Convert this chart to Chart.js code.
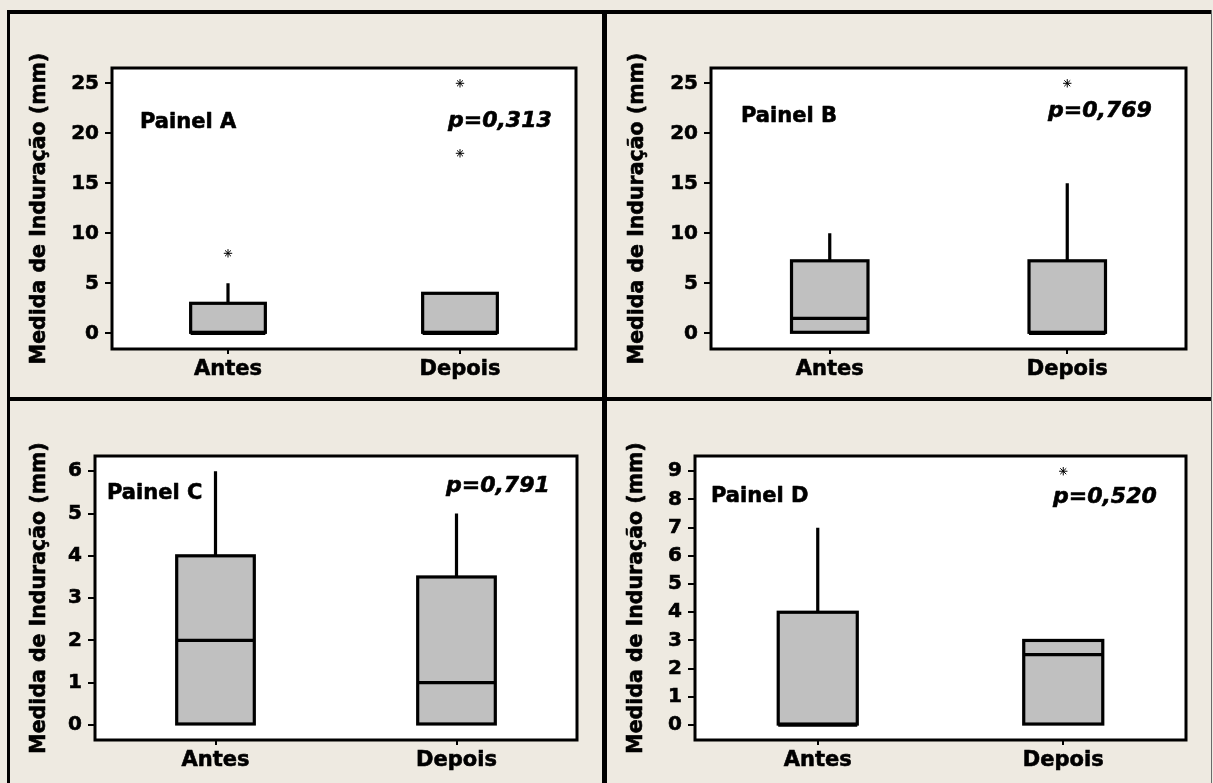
<!DOCTYPE html>
<html>
<head>
<meta charset="utf-8">
<script src="https://cdn.jsdelivr.net/npm/chart.js@4/dist/chart.umd.min.js"></script>
<style>
  html, body { margin: 0; padding: 0; background: #EEEAE1; width: 1213px; height: 783px; overflow: hidden; }
  body { position: relative; }
  .rule { position: absolute; background: #000; }
  canvas { position: absolute; }
</style>
</head>
<body>
<!-- panel frame -->
<div class="rule" style="left:7px;top:10px;width:1205px;height:4px"></div>
<div class="rule" style="left:7px;top:10px;width:3px;height:773px"></div>
<div class="rule" style="left:602px;top:10px;width:5px;height:773px"></div>
<div class="rule" style="left:7px;top:397px;width:1205px;height:4px"></div>
<div class="rule" style="left:1211px;top:10px;width:1px;height:773px;background:#6a6a6a"></div>

<canvas id="panelA" width="592" height="383" style="left:10px;top:14px"></canvas>
<canvas id="panelB" width="604" height="383" style="left:607px;top:14px"></canvas>
<canvas id="panelC" width="592" height="382" style="left:10px;top:401px"></canvas>
<canvas id="panelD" width="604" height="382" style="left:607px;top:401px"></canvas>

<script>
// Groups on the x axis
const CATEGORIES = ['Antes', 'Depois'];
const Y_TITLE = 'Medida de Induração (mm)';

// Painel A: five-number summaries and outliers per group
const A_MIN = [0, 0];
const A_Q1 = [0, 0];
const A_MEDIAN = [0, 0];
const A_Q3 = [3, 4];
const A_MAX = [5, 4];
const A_OUTLIERS = [[8], [18, 25]];
const A_TICKS = [0, 5, 10, 15, 20, 25];
const A_LABEL = 'Painel A';
const A_PVALUE = 'p=0,313';

// Painel B
const B_MIN = [0, 0];
const B_Q1 = [0, 0];
const B_MEDIAN = [1.5, 0];
const B_Q3 = [7.25, 7.25];
const B_MAX = [10, 15];
const B_OUTLIERS = [[], [25]];
const B_TICKS = [0, 5, 10, 15, 20, 25];
const B_LABEL = 'Painel B';
const B_PVALUE = 'p=0,769';

// Painel C
const C_MIN = [0, 0];
const C_Q1 = [0, 0];
const C_MEDIAN = [2, 1];
const C_Q3 = [4, 3.5];
const C_MAX = [6, 5];
const C_OUTLIERS = [[], []];
const C_TICKS = [0, 1, 2, 3, 4, 5, 6];
const C_LABEL = 'Painel C';
const C_PVALUE = 'p=0,791';

// Painel D
const D_MIN = [0, 0];
const D_Q1 = [0, 0];
const D_MEDIAN = [0, 2.5];
const D_Q3 = [4, 3];
const D_MAX = [7, 3];
const D_OUTLIERS = [[], [9]];
const D_TICKS = [0, 1, 2, 3, 4, 5, 6, 7, 8, 9];
const D_LABEL = 'Painel D';
const D_PVALUE = 'p=0,520';

const FONT = '"DejaVu Sans", Verdana, sans-serif';
const TEXT_STROKE = 0.6;
Chart.defaults.font.family = FONT;
Chart.defaults.color = '#000';

const panels = [
  { id: 'panelA', min: A_MIN, q1: A_Q1, median: A_MEDIAN, q3: A_Q3, max: A_MAX, outliers: A_OUTLIERS,
    ticks: A_TICKS, label: A_LABEL, pvalue: A_PVALUE,
    yRange: [-1.57, 26.53], pad: { left: 18, right: 26, top: 54, bottom: 0 }, yWidth: 84, xHeight: 48,
    titleX: 30, labelAt: [28, 60], pAt: [336, 59] },
  { id: 'panelB', min: B_MIN, q1: B_Q1, median: B_MEDIAN, q3: B_Q3, max: B_MAX, outliers: B_OUTLIERS,
    ticks: B_TICKS, label: B_LABEL, pvalue: B_PVALUE,
    yRange: [-1.57, 26.53], pad: { left: 19, right: 25, top: 54, bottom: 0 }, yWidth: 85, xHeight: 48,
    titleX: 31, labelAt: [30, 54], pAt: [337, 49] },
  { id: 'panelC', min: C_MIN, q1: C_Q1, median: C_MEDIAN, q3: C_Q3, max: C_MAX, outliers: C_OUTLIERS,
    ticks: C_TICKS, label: C_LABEL, pvalue: C_PVALUE,
    yRange: [-0.355, 6.36], pad: { left: 18, right: 25, top: 55, bottom: 0 }, yWidth: 67, xHeight: 43,
    titleX: 30, labelAt: [12, 43], pAt: [351, 36] },
  { id: 'panelD', min: D_MIN, q1: D_Q1, median: D_MEDIAN, q3: D_Q3, max: D_MAX, outliers: D_OUTLIERS,
    ticks: D_TICKS, label: D_LABEL, pvalue: D_PVALUE,
    yRange: [-0.53, 9.54], pad: { left: 18, right: 25, top: 55, bottom: 0 }, yWidth: 70, xHeight: 43,
    titleX: 30, labelAt: [16, 46], pAt: [358, 47] }
];

function boldText(ctx, text, x, y) {
  ctx.fillText(text, x, y);
  ctx.strokeText(text, x, y);
}

// Box outlines, whiskers, medians, plot frame, axis title and panel annotations
function boxPlotParts(p) {
  return {
    id: 'boxParts',
    beforeDraw(chart) {
      const { ctx, chartArea: a } = chart;
      ctx.save();
      ctx.fillStyle = '#ffffff';
      ctx.fillRect(a.left, a.top, a.right - a.left, a.bottom - a.top);
      ctx.restore();
    },
    afterDatasetsDraw(chart) {
      const { ctx } = chart;
      const y = chart.scales.y;
      const bars = chart.getDatasetMeta(0).data;
      ctx.save();
      ctx.strokeStyle = '#000';
      ctx.lineWidth = 3.2;
      ctx.lineCap = 'butt';
      ctx.lineJoin = 'miter';
      bars.forEach((bar, i) => {
        const { x, y: top, base, width } = bar.getProps(['x', 'y', 'base', 'width'], true);
        const half = width / 2;
        ctx.strokeRect(x - half, top, width, base - top);
        ctx.beginPath();
        if (p.max[i] > p.q3[i]) {
          ctx.moveTo(x, y.getPixelForValue(p.q3[i]));
          ctx.lineTo(x, y.getPixelForValue(p.max[i]));
        }
        if (p.min[i] < p.q1[i]) {
          ctx.moveTo(x, y.getPixelForValue(p.q1[i]));
          ctx.lineTo(x, y.getPixelForValue(p.min[i]));
        }
        const ym = y.getPixelForValue(p.median[i]);
        ctx.moveTo(x - half, ym);
        ctx.lineTo(x + half, ym);
        ctx.stroke();
      });
      ctx.restore();
    },
    afterDraw(chart) {
      const { ctx, chartArea: a } = chart;
      ctx.save();
      ctx.strokeStyle = '#000';
      ctx.lineWidth = 3;
      ctx.strokeRect(a.left, a.top, a.right - a.left, a.bottom - a.top);
      ctx.fillStyle = '#000';
      ctx.lineWidth = TEXT_STROKE;
      ctx.lineJoin = 'round';
      ctx.textBaseline = 'alphabetic';
      ctx.textAlign = 'left';
      ctx.font = 'bold 21px ' + FONT;
      boldText(ctx, p.label, a.left + p.labelAt[0], a.top + p.labelAt[1]);
      ctx.font = 'italic bold 22px ' + FONT;
      boldText(ctx, p.pvalue, a.left + p.pAt[0], a.top + p.pAt[1]);
      // y-axis title, rotated and centred on the plot area
      ctx.translate(p.titleX, (a.top + a.bottom) / 2);
      ctx.rotate(-Math.PI / 2);
      ctx.textAlign = 'center';
      ctx.textBaseline = 'middle';
      ctx.font = 'bold 20.5px ' + FONT;
      boldText(ctx, Y_TITLE, 0, 0);
      ctx.restore();
    }
  };
}

panels.forEach(p => {
  const boxes = CATEGORIES.map((c, i) => [p.q1[i], p.q3[i]]);
  const outlierPoints = [];
  p.outliers.forEach((vals, i) => vals.forEach(v => outlierPoints.push({ x: CATEGORIES[i], y: v })));

  new Chart(document.getElementById(p.id), {
    type: 'bar',
    data: {
      labels: CATEGORIES,
      datasets: [
        {
          type: 'bar',
          data: boxes,
          backgroundColor: '#C0C0C0',
          borderWidth: 0,
          categoryPercentage: 1,
          barPercentage: 0.322
        },
        {
          type: 'line',
          data: outlierPoints,
          showLine: false,
          pointStyle: 'star',
          pointRadius: 4.2,
          pointBorderWidth: 1,
          pointBorderColor: '#000',
          pointBackgroundColor: '#000'
        }
      ]
    },
    options: {
      responsive: false,
      animation: false,
      devicePixelRatio: 1,
      layout: { padding: p.pad },
      plugins: { legend: { display: false }, tooltip: { enabled: false } },
      scales: {
        x: {
          type: 'category',
          offset: true,
          afterFit: s => { s.height = p.xHeight; },
          border: { display: false },
          grid: { offset: false, drawOnChartArea: false, drawTicks: true, tickLength: 5, color: '#000', lineWidth: 2 },
          ticks: { padding: 3, maxRotation: 0, color: '#000', textStrokeColor: '#000', textStrokeWidth: TEXT_STROKE,
                   font: { size: 21, weight: 'bold' } }
        },
        y: {
          min: p.yRange[0],
          max: p.yRange[1],
          afterBuildTicks: s => { s.ticks = p.ticks.map(v => ({ value: v })); },
          afterFit: s => { s.width = p.yWidth; },
          border: { display: false },
          grid: { drawOnChartArea: false, drawTicks: true, tickLength: 7, color: '#000', lineWidth: 2 },
          ticks: { padding: 6, color: '#000', textStrokeColor: '#000', textStrokeWidth: TEXT_STROKE,
                   font: { size: 20, weight: 'bold' } },
          title: { display: false }
        }
      }
    },
    plugins: [boxPlotParts(p)]
  });
});
</script>
</body>
</html>
